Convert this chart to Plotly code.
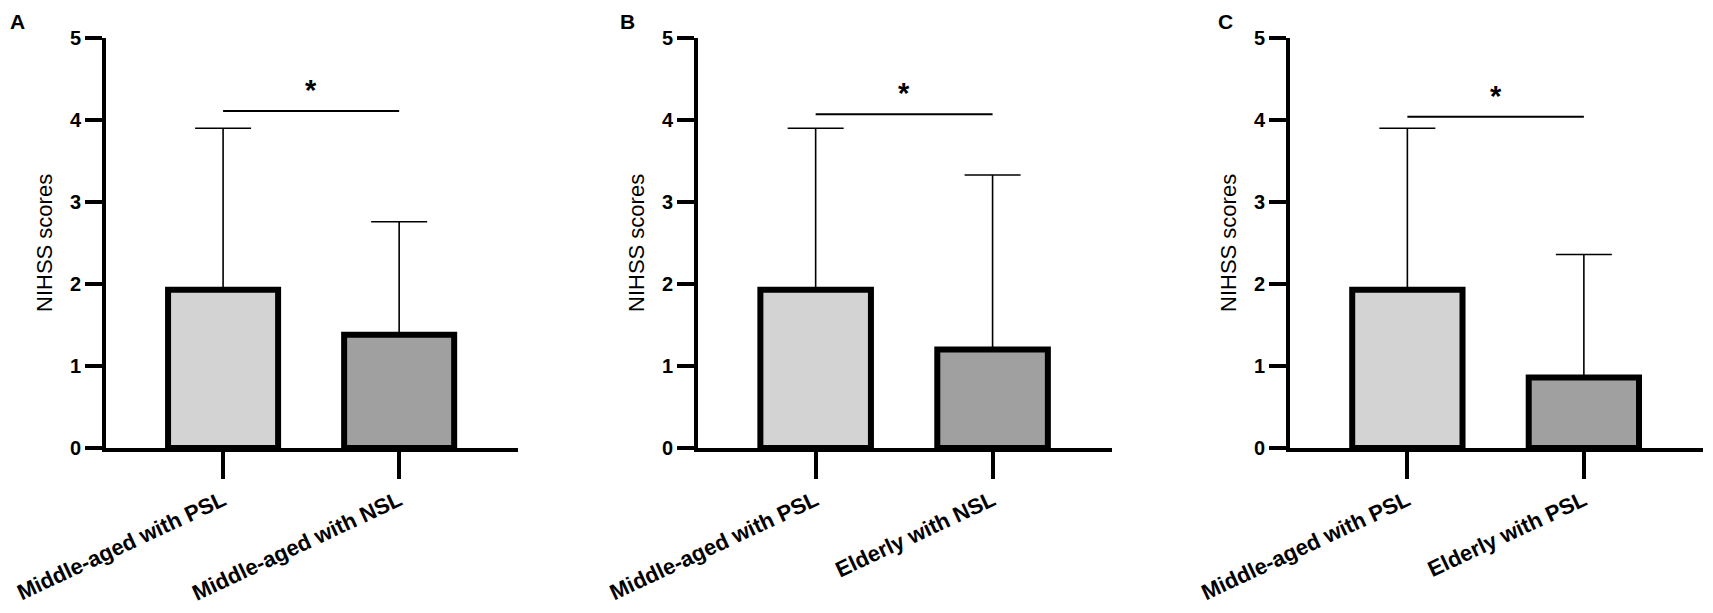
import plotly.graph_objects as go

# panel data (NIHSS scores, mean and SD)
panel_letters = ["A", "B", "C"]
groups_a = ["Middle-aged with PSL", "Middle-aged with NSL"]
groups_b = ["Middle-aged with PSL", "Elderly with NSL"]
groups_c = ["Middle-aged with PSL", "Elderly with PSL"]
means_a = [1.93, 1.38]
sd_a = [1.97, 1.38]
means_b = [1.93, 1.20]
sd_b = [1.97, 2.13]
means_c = [1.93, 0.86]
sd_c = [1.97, 1.50]
sig_heights = [4.11, 4.07, 4.04]
sig_marks = ["*", "*", "*"]
y_ticks = [0, 1, 2, 3, 4, 5]
y_title = "NIHSS scores"

bar_colors = ["#d3d3d3", "#a0a0a0"]
font_family = "Liberation Sans, Arial, sans-serif"

W, H = 1713, 613
# pixel positions of each panel (y axis line, x axis end)
x_domains = [(106, 518), (698, 1112), (1290, 1703)]
y_top, y_bottom = 38, 448

fig = go.Figure()

panels = [(groups_a, means_a, sd_a), (groups_b, means_b, sd_b), (groups_c, means_c, sd_c)]

for i, (groups, means, sds) in enumerate(panels):
    n = "" if i == 0 else str(i + 1)
    fig.add_trace(go.Bar(
        x=groups,
        y=means,
        width=0.625,
        marker=dict(color=bar_colors, line=dict(color="black", width=6)),
        error_y=dict(type="data", symmetric=False, array=sds, arrayminus=[0, 0],
                     color="black", thickness=1.6, width=28),
        xaxis="x" + n,
        yaxis="y" + n,
        showlegend=False,
    ))

    x0, x1 = x_domains[i]
    axis_common = dict(showline=True, linewidth=4, linecolor="black", ticks="outside",
                       tickcolor="black", tickwidth=4, showgrid=False, zeroline=False,
                       automargin=False)
    fig.update_layout({
        "xaxis" + n: dict(
            domain=[x0 / W, x1 / W], anchor="y" + n, type="category",
            range=[-0.665, 1.675], ticklen=27, tickangle=-25,
            tickfont=dict(family=font_family, size=22, color="black", weight="bold"),
            **axis_common),
        "yaxis" + n: dict(
            domain=[1 - y_bottom / H, 1 - y_top / H], anchor="x" + n,
            range=[0, 5], tickvals=y_ticks, ticklen=17,
            tickfont=dict(family=font_family, size=20, color="black", weight="bold"),
            **axis_common),
    })

    # significance bar between the two groups
    fig.add_shape(type="line", xref="x" + n, yref="y" + n,
                  x0=groups[0], x1=groups[1], y0=sig_heights[i], y1=sig_heights[i],
                  line=dict(color="black", width=2))
    fig.add_annotation(xref="x" + n, yref="y" + n, x=0.5, y=sig_heights[i],
                       text=sig_marks[i], showarrow=False, yanchor="bottom", yshift=3,
                       font=dict(family=font_family, size=29, color="black", weight="bold"))

    # y axis title
    fig.add_annotation(xref="paper", yref="paper", x=(x0 - 62) / W,
                       y=1 - (y_top + y_bottom) / 2 / H, text=y_title, textangle=-90,
                       showarrow=False, xanchor="center", yanchor="middle",
                       font=dict(family=font_family, size=22, color="black"))

    # panel letter
    letter_x = [17, 627, 1225][i]
    fig.add_annotation(xref="paper", yref="paper", x=letter_x / W, y=1 - 21 / H,
                       text=panel_letters[i], showarrow=False, xanchor="center", yanchor="middle",
                       font=dict(family=font_family, size=21, color="black", weight="bold"))

fig.update_layout(
    width=W,
    height=H,
    margin=dict(l=0, r=0, t=0, b=0),
    paper_bgcolor="white",
    plot_bgcolor="white",
    bargap=0.3,
)

# drop the default page margin so the figure sits at the window origin
fig.write_html("out.html", config={"displayModeBar": False},
               post_script="document.body.style.margin='0';")
